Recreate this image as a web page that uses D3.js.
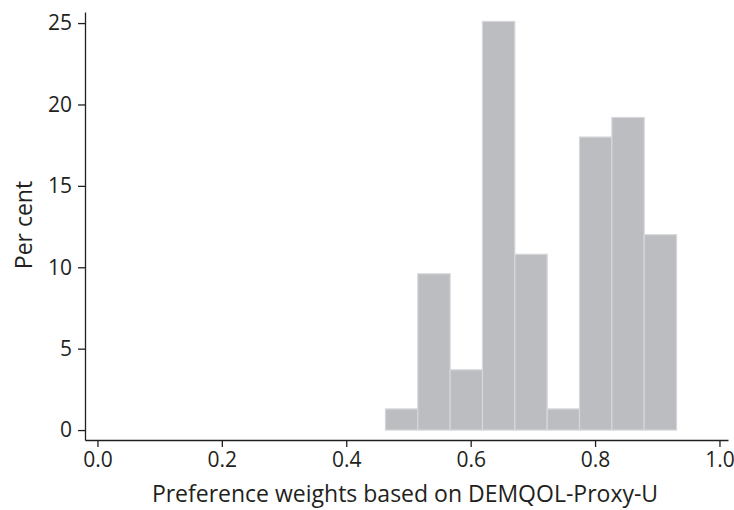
<!DOCTYPE html>
<html>
<head>
<meta charset="utf-8">
<script src="https://cdn.jsdelivr.net/npm/d3@7"></script>
<style>
  body { margin: 0; background: #fff; }
  svg { display: block; font-family: "Open Sans", "Noto Sans", sans-serif; }
</style>
</head>
<body>
<svg id="chart" width="734" height="510"></svg>
<script>
// histogram bin edges (preference weight) and percentage per bin
const binEdges = [0.463, 0.515, 0.567, 0.619, 0.671, 0.723, 0.775, 0.827, 0.879, 0.931]
const percents = [1.3, 9.6, 3.7, 25.1, 10.8, 1.3, 18.0, 19.2, 12.0]
const xTicks = [0, 0.2, 0.4, 0.6, 0.8, 1.0]
const yTicks = [0, 5, 10, 15, 20, 25]

const svg = d3.select('#chart')

const x = d3.scaleLinear().domain([-0.02, 1.0137]).range([85, 728])
const y = d3.scaleLinear().domain([-0.61, 25.68]).range([440, 12])

const bins = percents.map((p, i) => ({ x0: binEdges[i], x1: binEdges[i + 1], value: p }))

svg.selectAll('rect.bar')
    .data(bins)
    .enter()
    .append('rect')
    .attr('class', 'bar')
    .attr('x', d => x(d.x0))
    .attr('width', d => x(d.x1) - x(d.x0))
    .attr('y', d => y(d.value))
    .attr('height', d => y(0) - y(d.value))
    .attr('fill', '#bcbdc1')
    .attr('stroke', '#d6d7d9')
    .attr('stroke-width', 1.2)

// x axis
const xAxis = svg.append('g')
    .attr('transform', 'translate(0,440)')
    .call(d3.axisBottom(x).tickValues(xTicks).tickFormat(d3.format('.1f')).tickSize(7).tickPadding(5).tickSizeOuter(0))
xAxis.select('.domain').attr('stroke', '#231f20').attr('stroke-width', 1.3)
xAxis.selectAll('.tick line').attr('stroke', '#231f20').attr('stroke-width', 1.3)
xAxis.selectAll('.tick text').attr('font-size', 21).attr('fill', '#231f20').attr('font-family', '"Open Sans", sans-serif')

// y axis
const yAxis = svg.append('g')
    .attr('transform', 'translate(85,0)')
    .call(d3.axisLeft(y).tickValues(yTicks).tickSize(7).tickPadding(6).tickSizeOuter(0))
yAxis.select('.domain').attr('stroke', '#231f20').attr('stroke-width', 1.3)
yAxis.selectAll('.tick line').attr('stroke', '#231f20').attr('stroke-width', 1.3)
yAxis.selectAll('.tick text').attr('font-size', 21).attr('fill', '#231f20').attr('font-family', '"Open Sans", sans-serif')

// axis titles
svg.append('text')
    .attr('x', 405)
    .attr('y', 502)
    .attr('text-anchor', 'middle')
    .attr('font-size', 23)
    .attr('fill', '#231f20')
    .text('Preference weights based on DEMQOL-Proxy-U')

svg.append('text')
    .attr('transform', 'translate(32,225) rotate(-90)')
    .attr('text-anchor', 'middle')
    .attr('font-size', 23)
    .attr('fill', '#231f20')
    .text('Per cent')
</script>
</body>
</html>
